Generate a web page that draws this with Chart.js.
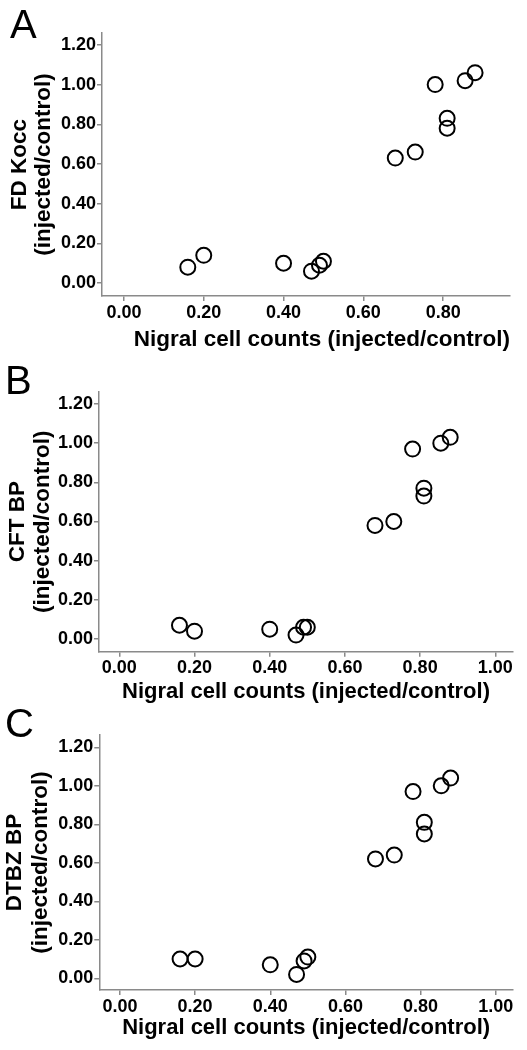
<!DOCTYPE html>
<html>
<head>
<meta charset="utf-8">
<script src="https://cdn.jsdelivr.net/npm/chart.js@4.4.1/dist/chart.umd.min.js"></script>
<style>
  body { margin: 0; background: #fff; }
  #page { position: relative; width: 527px; height: 1050px; overflow: hidden; }
  .panel { position: absolute; left: 0; }
  .letter { position: absolute; font-family: 'Liberation Sans', Arial, sans-serif; font-size: 40px; line-height: 1; color: #000; }
</style>
</head>
<body>
<div id="page">
  <canvas id="chartA" class="panel" width="527" height="360" style="top:0px"></canvas>
  <canvas id="chartB" class="panel" width="527" height="380" style="top:340px"></canvas>
  <canvas id="chartC" class="panel" width="527" height="360" style="top:690px"></canvas>
  <div class="letter" style="left:10px; top:4px">A</div>
  <div class="letter" style="left:5px; top:360px">B</div>
  <div class="letter" style="left:5px; top:703px">C</div>
</div>
<script>
// nigral cell counts, same animals in every panel
const nigralCounts = [0.16, 0.20, 0.40, 0.47, 0.49, 0.50, 0.68, 0.73, 0.78, 0.81, 0.81, 0.855, 0.88];
const fdKocc  = [0.08, 0.14, 0.10, 0.06, 0.09, 0.11, 0.63, 0.66, 1.00, 0.83, 0.78, 1.02, 1.06];
const cftBP   = [0.07, 0.04, 0.05, 0.02, 0.06, 0.06, 0.58, 0.60, 0.97, 0.77, 0.73, 1.00, 1.03];
const dtbzBP  = [0.10, 0.10, 0.07, 0.02, 0.09, 0.11, 0.62, 0.64, 0.97, 0.81, 0.75, 1.00, 1.04];

const xTicks = [0.00, 0.20, 0.40, 0.60, 0.80, 1.00];
const yTicks = [0.00, 0.20, 0.40, 0.60, 0.80, 1.00, 1.20];
const xTitle = 'Nigral cell counts (injected/control)';

const FONT = "'Liberation Sans', Arial, sans-serif";
const AXIS_GREY = '#8a8a8a';

function makePanel(id, yValues, yTitle, p) {
  const points = nigralCounts.map((x, i) => ({ x: x, y: yValues[i] }));
  // only the round 0.20 steps, no extra ticks at min/max
  const keepTicks = list => function(scale) {
    scale.ticks = list.filter(v => v >= scale.min - 1e-9 && v <= scale.max + 1e-9).map(v => ({ value: v }));
  };
  const axisCommon = {
    type: 'linear',
    grid: { display: true, drawOnChartArea: false, drawTicks: true, tickLength: 5, color: AXIS_GREY, lineWidth: 1.5 },
    border: { display: true, color: AXIS_GREY, width: 1.5 },
    ticks: { color: '#000', padding: 1, font: { family: FONT, size: 18, weight: 'bold' }, callback: v => v.toFixed(2) }
  };
  new Chart(document.getElementById(id), {
    type: 'scatter',
    data: {
      datasets: [{
        data: points,
        pointStyle: 'circle',
        pointRadius: 7.5,
        pointHoverRadius: 7.5,
        borderWidth: 2,
        borderColor: '#000',
        backgroundColor: 'rgba(0,0,0,0)',
        clip: false
      }]
    },
    options: {
      responsive: false,
      devicePixelRatio: 1,
      animation: false,
      events: [],
      layout: { padding: { top: p.top, right: p.right, left: 0, bottom: 0 } },
      plugins: { legend: { display: false }, tooltip: { enabled: false } },
      scales: {
        x: Object.assign({}, axisCommon, {
          min: p.xMin, max: p.xMax,
          afterBuildTicks: keepTicks(xTicks),
          afterFit: s => { s.height = p.xHeight; },
          title: { display: true, text: xTitle, align: p.xAlign, color: '#000',
                   font: { family: FONT, size: p.xTitleSize, weight: 'bold' },
                   padding: { top: 0, bottom: p.xTitlePad } }
        }),
        y: Object.assign({}, axisCommon, {
          min: p.yMin, max: p.yMax,
          afterBuildTicks: keepTicks(yTicks),
          afterFit: s => { s.width = p.left; },
          title: { display: true, text: [yTitle, '(injected/control)'], color: '#000',
                   font: { family: FONT, size: 22.5, weight: 'bold', lineHeight: p.yLine },
                   padding: { top: p.yTitlePad, bottom: 0 } }
        })
      }
    }
  });
}

makePanel('chartA', fdKocc, 'FD Kocc', {
  top: 33, right: 17, left: 102, xHeight: 64,
  xMin: -0.055, xMax: 0.9675, yMin: -0.065, yMax: 1.26,
  xAlign: 'end', xTitleSize: 22.5, xTitlePad: 6.5, yLine: 1.07, yTitlePad: 7.5
});
makePanel('chartB', cftBP, 'CFT BP', {
  top: 51.7, right: 14, left: 99, xHeight: 68.3,
  xMin: -0.054, xMax: 1.047, yMin: -0.065, yMax: 1.263,
  xAlign: 'center', xTitleSize: 22, xTitlePad: 14.8, yLine: 1.11, yTitlePad: 5
});
makePanel('chartC', dtbzBP, 'DTBZ BP', {
  top: 45, right: 14, left: 99.3, xHeight: 60,
  xMin: -0.055, xMax: 1.046, yMin: -0.061, yMax: 1.264,
  xAlign: 'center', xTitleSize: 22, xTitlePad: 8.8, yLine: 1.15, yTitlePad: 1.5
});
</script>
</body>
</html>
